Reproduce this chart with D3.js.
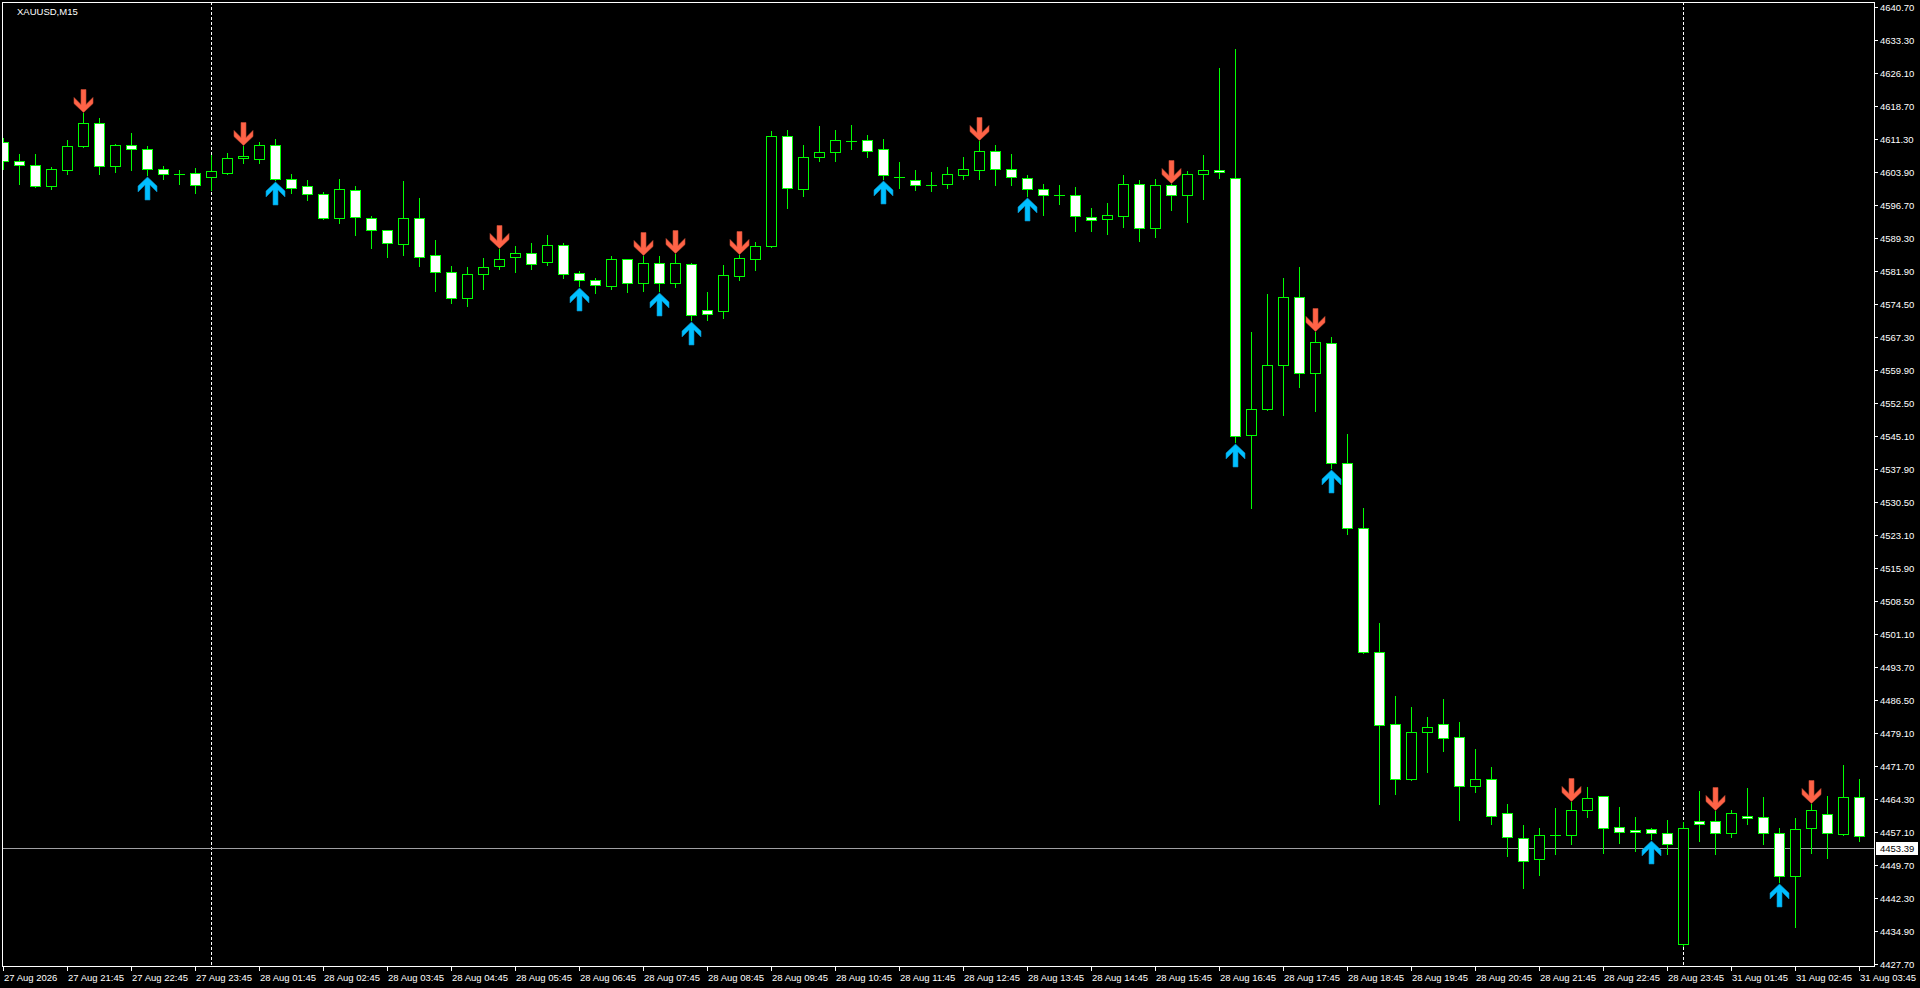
<!DOCTYPE html>
<html><head><meta charset="utf-8">
<script src="https://cdn.jsdelivr.net/npm/d3@7"></script>
<style>html,body{margin:0;padding:0;background:#000;overflow:hidden}</style>
</head><body><svg id="c" width="1920" height="988"></svg>
<script>
const opens=[4610.6,4606.4,4605.5,4600.9,4604.4,4609.7,4614.8,4605.2,4609.9,4609.0,4604.6,4603.6,4603.7,4602.8,4603.8,4607.0,4606.9,4609.9,4602.3,4600.8,
4599.0,4593.7,4599.9,4593.7,4591.0,4588.0,4593.7,4585.4,4581.6,4575.9,4581.2,4583.0,4585.0,4585.9,4583.9,4587.7,4581.4,4579.9,4578.7,4584.5,
4579.2,4583.6,4579.2,4583.4,4573.2,4573.1,4580.9,4584.7,4587.4,4611.9,4600.1,4607.2,4608.5,4610.9,4611.0,4609.0,4602.9,4602.1,4601.1,4601.4,
4603.4,4604.5,4608.6,4604.7,4602.6,4600.1,4598.8,4598.8,4593.9,4593.4,4594.2,4601.2,4591.4,4601.0,4598.8,4603.5,4604.4,4602.6,4545.5,4551.3,
4560.9,4576.1,4559.2,4566.0,4539.1,4524.7,4497.1,4481.0,4468.9,4479.3,4481.0,4478.1,4467.2,4468.8,4461.2,4455.8,4451.1,4456.4,4456.3,4461.9,
4465.0,4458.1,4457.5,4457.6,4456.8,4432.0,4459.4,4459.4,4456.8,4460.5,4460.3,4456.8,4447.2,4457.9,4461.0,4456.5,4464.8];
const highs=[4611.5,4608.0,4608.0,4605.1,4611.1,4617.2,4615.9,4610.2,4612.7,4609.7,4605.2,4604.4,4604.8,4607.7,4608.2,4609.8,4610.7,4611.3,4603.5,4602.2,
4599.5,4602.3,4600.9,4594.2,4591.1,4602.0,4598.2,4588.8,4583.0,4582.8,4584.8,4586.8,4587.4,4588.2,4589.9,4588.1,4581.9,4580.4,4585.3,4584.6,
4585.3,4585.3,4585.7,4583.6,4577.3,4583.3,4585.5,4588.4,4613.0,4613.3,4609.9,4614.2,4613.3,4614.4,4612.2,4611.3,4606.2,4604.4,4604.0,4605.1,
4607.3,4610.8,4609.9,4608.0,4603.3,4601.3,4601.1,4600.6,4595.9,4597.1,4603.3,4602.2,4602.4,4601.2,4604.2,4607.8,4627.1,4631.4,4568.4,4576.7,
4580.4,4582.8,4568.3,4567.3,4545.6,4529.2,4503.6,4487.3,4484.9,4482.7,4486.7,4481.5,4475.5,4471.5,4463.3,4458.7,4457.9,4462.4,4463.7,4467.1,
4465.1,4462.6,4460.4,4458.0,4459.7,4459.3,4466.2,4461.8,4461.9,4466.8,4464.8,4457.9,4460.2,4463.3,4465.1,4472.0,4468.8];
const lows=[4604.6,4601.4,4600.7,4600.2,4603.6,4609.5,4603.6,4604.0,4604.5,4603.2,4602.3,4601.4,4599.4,4599.9,4603.6,4606.0,4606.0,4602.2,4599.4,4597.8,
4593.5,4592.6,4590.0,4587.1,4585.1,4585.6,4583.1,4577.5,4574.7,4574.2,4578.0,4582.4,4581.6,4582.4,4583.3,4580.4,4578.6,4577.1,4578.0,4577.3,
4577.5,4577.5,4578.4,4571.0,4571.0,4571.5,4579.9,4582.2,4587.3,4596.0,4598.7,4606.5,4606.4,4609.1,4607.4,4602.5,4600.3,4600.0,4599.8,4600.3,
4602.5,4602.5,4601.1,4601.1,4598.6,4594.5,4596.9,4590.9,4590.9,4590.2,4591.8,4588.5,4589.6,4595.5,4592.9,4598.0,4602.7,4543.9,4529.2,4551.0,
4549.9,4556.2,4550.8,4538.1,4523.3,4496.9,4463.3,4465.4,4468.6,4470.5,4475.0,4459.8,4466.0,4458.9,4451.8,4444.6,4447.5,4452.2,4454.4,4460.4,
4452.4,4454.7,4452.7,4455.5,4452.2,4431.6,4455.1,4452.2,4456.0,4458.9,4454.3,4445.9,4436.0,4452.4,4451.3,4456.4,4455.1];
const closes=[4606.4,4605.5,4600.9,4604.6,4609.7,4614.8,4605.2,4609.9,4609.0,4604.6,4603.5,4603.6,4601.0,4604.1,4607.0,4607.5,4609.9,4602.3,4600.3,4599.0,
4593.7,4600.1,4593.9,4591.0,4588.1,4593.7,4585.1,4581.6,4575.9,4581.2,4582.8,4584.5,4585.9,4583.4,4587.7,4581.2,4579.9,4578.8,4584.5,4579.2,
4583.6,4579.2,4583.6,4572.1,4572.3,4581.0,4584.8,4587.4,4611.9,4600.5,4607.2,4608.4,4611.0,4610.9,4608.7,4603.4,4602.9,4601.0,4601.1,4603.5,
4604.6,4608.6,4604.7,4602.8,4600.1,4598.8,4598.8,4594.1,4593.2,4594.3,4601.2,4591.4,4601.0,4598.8,4603.5,4604.4,4603.9,4545.3,4551.1,4560.9,
4576.1,4559.2,4566.1,4539.1,4524.7,4497.1,4480.8,4468.8,4479.3,4480.5,4477.9,4467.2,4468.8,4460.5,4456.0,4450.6,4456.3,4456.4,4461.9,4464.5,
4458.0,4457.0,4457.0,4456.8,4454.3,4457.9,4458.8,4456.9,4461.2,4460.1,4456.8,4447.2,4457.6,4461.9,4456.8,4464.8,4456.1];
const downArrows=[5,15,31,40,42,46,61,73,82,98,107,113];
const upArrows=[9,17,36,41,43,55,64,77,83,103,111];
const priceTicks=[4640.70,4633.30,4626.10,4618.70,4611.30,4603.90,4596.70,4589.30,4581.90,4574.50,4567.30,4559.90,4552.50,4545.10,4537.90,
4530.50,4523.10,4515.90,4508.50,4501.10,4493.70,4486.50,4479.10,4471.70,4464.30,4457.10,4449.70,4442.30,4434.90,4427.70];
const dateLabels=["27 Aug 2026","27 Aug 21:45","27 Aug 22:45","27 Aug 23:45","28 Aug 01:45","28 Aug 02:45","28 Aug 03:45","28 Aug 04:45",
"28 Aug 05:45","28 Aug 06:45","28 Aug 07:45","28 Aug 08:45","28 Aug 09:45","28 Aug 10:45","28 Aug 11:45","28 Aug 12:45","28 Aug 13:45",
"28 Aug 14:45","28 Aug 15:45","28 Aug 16:45","28 Aug 17:45","28 Aug 18:45","28 Aug 19:45","28 Aug 20:45","28 Aug 21:45","28 Aug 22:45",
"28 Aug 23:45","31 Aug 01:45","31 Aug 02:45","31 Aug 03:45"];
const daySeparators=[13,105];
const bidPrice=4453.39;
const title="XAUUSD,M15";

const FONT="'Liberation Sans', Arial, sans-serif";
const svg=d3.select("#c");
svg.append("rect").attr("width",1920).attr("height",988).attr("fill","#000");

const L=2,T=2,R=1874,B=966;
const n=opens.length;
const x=d3.scaleLinear().domain([0,n-1]).range([3,3+16*(n-1)]);
const y=d3.scaleLinear().domain([4427.7,4640.7]).range([963.8,7]);
const py=v=>Math.round(y(v));

svg.append("defs").append("clipPath").attr("id","plot").append("rect")
  .attr("x",L+1).attr("y",T+1).attr("width",R-L-1).attr("height",B-T-1);
const g=svg.append("g").attr("clip-path","url(#plot)");

// day separators
g.selectAll("line.sep").data(daySeparators).enter().append("line")
  .attr("x1",d=>Math.round(x(d))+0.5).attr("x2",d=>Math.round(x(d))+0.5)
  .attr("y1",T).attr("y2",B).attr("stroke","#fff").attr("stroke-width",1).attr("stroke-dasharray","3,2");

// bid line
g.append("line").attr("x1",L).attr("x2",R).attr("y1",py(bidPrice)+0.5).attr("y2",py(bidPrice)+0.5)
  .attr("stroke","#a0a0a4").attr("stroke-width",1);

const idx=d3.range(n);
const lime="#00ff00";
// wicks
g.selectAll("line.wick").data(idx).enter().append("line")
  .attr("x1",i=>Math.round(x(i))+0.5).attr("x2",i=>Math.round(x(i))+0.5)
  .attr("y1",i=>py(highs[i])).attr("y2",i=>py(lows[i])+1)
  .attr("stroke",lime).attr("stroke-width",1);
// bodies
idx.forEach(i=>{
  const cx=Math.round(x(i));
  const top=py(Math.max(opens[i],closes[i])), bot=py(Math.min(opens[i],closes[i]));
  const bull=closes[i]>=opens[i];
  if(bot-top<1){
    g.append("line").attr("x1",cx-5).attr("x2",cx+6).attr("y1",top+0.5).attr("y2",top+0.5)
      .attr("stroke",lime).attr("stroke-width",1);
  } else {
    g.append("rect").attr("x",cx-4.5).attr("y",top+0.5).attr("width",10).attr("height",bot-top)
      .attr("fill",bull?"#000":"#fff").attr("stroke",lime).attr("stroke-width",1);
  }
});

// arrows
const downPath="M0,0 L-9.5,-9 L-9.5,-15 L-2.5,-8 L-2.5,-23 L2.5,-23 L2.5,-8 L9.5,-15 L9.5,-9 Z";
const upPath="M0,0 L-9.5,9 L-9.5,15 L-2.5,8 L-2.5,23 L2.5,23 L2.5,8 L9.5,15 L9.5,9 Z";
g.selectAll("path.dn").data(downArrows).enter().append("path")
  .attr("d",downPath).attr("transform",i=>`translate(${Math.round(x(i))+0.5},${py(highs[i])-0.5})`)
  .attr("fill","#ff6347").attr("stroke","#c84a34").attr("stroke-width",0.6);
g.selectAll("path.up").data(upArrows).enter().append("path")
  .attr("d",upPath).attr("transform",i=>`translate(${Math.round(x(i))+0.5},${py(lows[i])+2})`)
  .attr("fill","#00bfff").attr("stroke","#0a86b8").attr("stroke-width",0.6);

// frame
svg.append("rect").attr("x",L+0.5).attr("y",T+0.5).attr("width",R-L).attr("height",B-T)
  .attr("fill","none").attr("stroke","#fff").attr("stroke-width",1);

// title
svg.append("text").attr("x",17).attr("y",14.5).text(title)
  .attr("fill","#fff").attr("font-family",FONT).attr("font-size","9.5px");

// price axis
const pa=svg.append("g");
priceTicks.forEach(v=>{
  const yy=py(v);
  pa.append("line").attr("x1",R).attr("x2",R+4).attr("y1",yy+0.5).attr("y2",yy+0.5).attr("stroke","#fff");
  pa.append("text").attr("x",R+6).attr("y",yy+4).text(v.toFixed(2))
    .attr("fill","#fff").attr("font-family",FONT).attr("font-size","9.5px");
});
// bid label
const by=py(bidPrice);
svg.append("rect").attr("x",R+2).attr("y",by-6).attr("width",42).attr("height",13).attr("fill","#fff");
svg.append("text").attr("x",R+6).attr("y",by+4).text(bidPrice.toFixed(2))
  .attr("fill","#000").attr("font-family",FONT).attr("font-size","9.5px");

// date axis
const da=svg.append("g");
dateLabels.forEach((t,k)=>{
  const xx=Math.round(x(k*4));
  da.append("line").attr("x1",xx+0.5).attr("x2",xx+0.5).attr("y1",B).attr("y2",B+5).attr("stroke","#fff");
  da.append("text").attr("x",xx+1).attr("y",981).text(t)
    .attr("fill","#fff").attr("font-family",FONT).attr("font-size","9.5px");
});
</script></body></html>
